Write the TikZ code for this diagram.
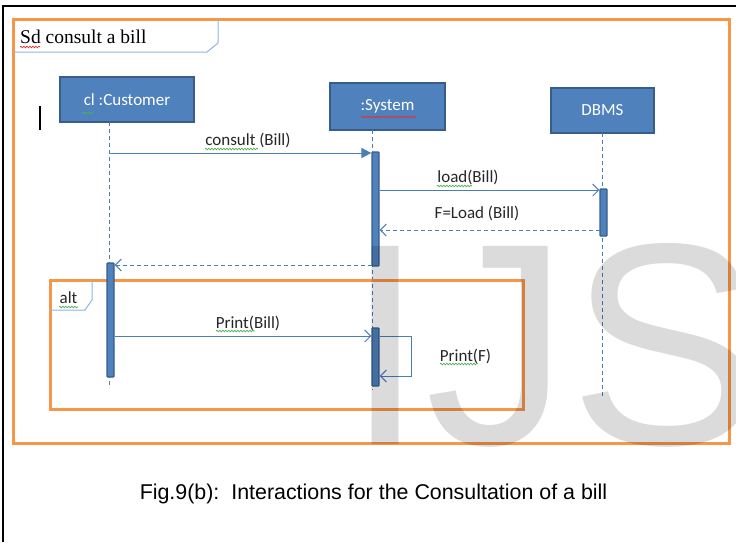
\documentclass[tikz,border=0pt]{standalone}
\usepackage{fontspec}
\setmainfont{Carlito}
\newfontfamily\captionfont{Liberation Sans}
\newfontfamily\framefont{Liberation Serif}
\usetikzlibrary{arrows.meta,decorations.pathmorphing}
\definecolor{boxblue}{HTML}{4F81BD}
\definecolor{boxedge}{HTML}{385D8A}
\definecolor{lineblue}{HTML}{4A7EBB}
\definecolor{tabblue}{HTML}{8EB4E3}
\definecolor{frameorange}{HTML}{F79646}
\definecolor{spellgreen}{HTML}{4CAF50}
\definecolor{spellred}{HTML}{E03030}
\tikzset{
  lifebox/.style={draw=boxedge, line width=2pt, fill=boxblue, text=white,
    font=\fontsize{17}{20}\selectfont, inner sep=0pt},
  actbar/.style={draw=boxedge, line width=1.2pt, fill=boxblue, minimum width=7pt,
    inner sep=0pt, rounded corners=0.8pt},
  lifeline/.style={draw=lineblue, dash pattern=on 4pt off 3pt, line width=0.8pt},
  msg/.style={draw=lineblue, line width=1pt, -{Straight Barb[length=6pt,width=12pt]}},
  callmsg/.style={draw=lineblue, line width=1pt, -{Triangle[length=10pt,width=10pt]}},
  retmsg/.style={msg, dash pattern=on 4pt off 3pt},
  lbl/.style={font=\fontsize{17}{20}\selectfont, inner sep=0pt, text=black!85},
  uframe/.style={draw=frameorange, line width=3pt},
  tabline/.style={draw=tabblue, line width=1pt},
  squiggle/.style={line width=0.7pt, decorate,
    decoration={snake, segment length=3pt, amplitude=0.8pt}},
}
\begin{document}
\begin{tikzpicture}[x=1pt, y=-1pt]
\useasboundingbox (0,0) rectangle (736,542);
\clip (0,0) rectangle (736,542);

% page border
\draw[line width=1.5pt] (3,542) -- (3,6) -- (736,6);

% sd frame
\draw[uframe] (13,19.5) rectangle (729.5,443);
\draw[tabline] (14,52) -- (207,52) -- (218,43) -- (218,20);
\node[font=\framefont\fontsize{19.5}{22}\selectfont, anchor=west, inner sep=0pt] (sdlbl) at (20,37) {Sd consult a bill};
\draw[spellred, squiggle] (20,47) -- (40,47);

% text cursor
\draw[line width=1.5pt] (40,106) -- (40,130);

% lifeline heads
\node[lifebox, minimum width=134pt, minimum height=45pt] (cust) at (127,99.5) {cl :Customer};
\node[lifebox, minimum width=115pt, minimum height=47pt] (sys) at (387.5,106.5) {:System};
\node[lifebox, minimum width=103pt, minimum height=45pt] (dbms) at (602.5,110.5) {DBMS};
\draw[spellgreen, squiggle] (82,113) -- (93,113);
\draw[spellred, squiggle] (361,117) -- (416,117);

% lifelines
\coordinate (custtop) at (109,122);
\coordinate (custend) at (109,386);
\coordinate (systop) at (372,130);
\coordinate (sysend) at (372,390);
\coordinate (dbtop) at (602,133);
\coordinate (dbend) at (602,397);
\draw[lifeline] (custtop) -- (custend);
\draw[lifeline] (systop) -- (sysend);
\draw[lifeline] (dbtop) -- (dbend);

% alt fragment
\draw[uframe] (50,280) rectangle (523,409);
\draw[tabline] (50,310) -- (85,310) -- (92,300) -- (92,280);
\node[lbl] (altlbl) at (68.5,298) {alt};
\draw[spellgreen, squiggle] (59,307) -- (78,307);

% activation bars
\node[actbar, minimum height=114pt] (sysA) at (375.5,209) {};
\node[actbar, minimum height=47pt] (dbA) at (603.5,212.5) {};
\node[actbar, minimum height=114pt] (custA) at (110.5,320) {};
\node[actbar, minimum height=58pt] (sysB) at (375.5,357) {};

% messages
\coordinate (c1) at (109,153);
\draw[callmsg] (c1) -- (c1 -| sysA.west);
\node[lbl] (consultlbl) at (248,140) {consult (Bill)};
\draw[spellgreen, squiggle] (205,149) -- (258,149);

\coordinate (l1) at (380,190);
\draw[msg] (l1) -- (l1 -| dbA.west);
\node[lbl] (loadlbl) at (468,177) {load(Bill)};
\draw[spellgreen, squiggle] (437,186) -- (472,186);

\coordinate (r1) at (600,230);
\draw[retmsg] (r1) -- (r1 -| sysA.east);
\node[lbl] (floadlbl) at (477,213) {F=Load (Bill)};

\coordinate (r2) at (372,265);
\draw[retmsg] (r2) -- (r2 -| custA.east);

\coordinate (p1) at (115,336);
\draw[msg] (p1) -- (p1 -| sysB.west);
\node[lbl] (printbill) at (248,323) {Print(Bill)};
\draw[spellgreen, squiggle] (216,331) -- (255,331);

\coordinate (s1) at (380,336);
\coordinate (s2) at (411,336);
\coordinate (s3) at (411,376);
\draw[msg] (s1) -- (s2) -- (s3) -- (s3 -| sysB.east);
\node[lbl] (printf) at (465.5,356) {Print(F)};
\draw[spellgreen, squiggle] (440,364) -- (478,364);

% watermark
\node[font=\captionfont\fontsize{288}{288}\selectfont, text=black, text opacity=0.14,
  anchor=base west, inner sep=0pt] (mark) at (345,444) {IJS};

% caption
\node[font=\captionfont\fontsize{21.4}{24}\selectfont, inner sep=0pt, anchor=base] (cap) at (373.5,499) {Fig.9(b):\ \ Interactions for the Consultation of a bill};
\end{tikzpicture}
\end{document}
